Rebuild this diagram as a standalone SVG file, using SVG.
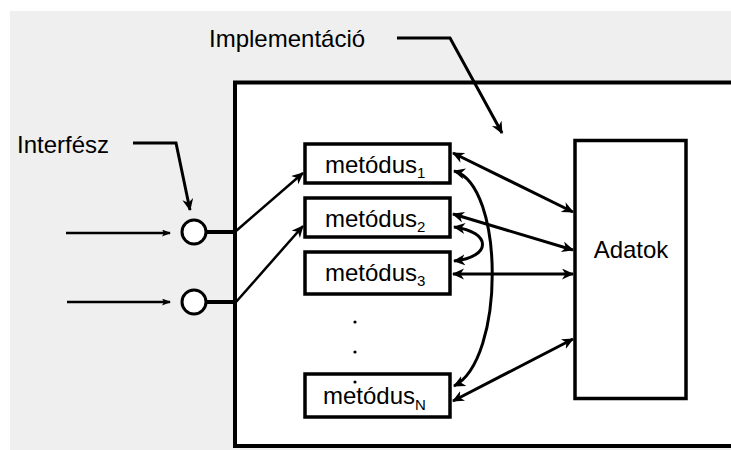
<svg xmlns="http://www.w3.org/2000/svg" width="731" height="450" viewBox="0 0 731 450">
  <style>
    .t { font-family: "Liberation Sans", Arial, sans-serif; fill: #000; }
    .box { fill: #fff; stroke: #000; stroke-width: 3.5; }
    .thick { fill: none; stroke: #000; stroke-width: 3; }
    .thin { fill: none; stroke: #000; stroke-width: 2.5; }
  </style>
  <defs>
    <marker id="ah" markerUnits="userSpaceOnUse" markerWidth="14" markerHeight="14" refX="11" refY="5.5" orient="auto-start-reverse">
      <path d="M0,0 L12,5.5 L0,11 L3.5,5.5 z" fill="#000"/>
    </marker>
    <marker id="ahs" markerUnits="userSpaceOnUse" markerWidth="10" markerHeight="10" refX="8" refY="3.5" orient="auto">
      <path d="M0,0 L9,3.5 L0,7 L2,3.5 z" fill="#000"/>
    </marker>
  </defs>

  <rect x="10" y="11" width="721" height="439" fill="#efefef"/>

  <g id="implementacio">
    <rect x="235" y="82.5" width="600" height="363.5" fill="#fff" stroke="#000" stroke-width="4"/>
    <text class="t" x="209" y="47" font-size="24">Implementáció</text>
  </g>

  <g id="interfesz">
    <text class="t" x="17" y="153" font-size="24">Interfész</text>
    <circle cx="194" cy="232" r="12" fill="#fff" stroke="#000" stroke-width="3"/>
    <circle cx="194" cy="302" r="12" fill="#fff" stroke="#000" stroke-width="3"/>
  </g>

  <g id="m1">
    <rect class="box" x="305" y="144" width="145" height="39"/>
    <text class="t" x="325" y="172.5" font-size="24">metódus<tspan font-size="15" dy="5">1</tspan></text>
  </g>
  <g id="m2">
    <rect class="box" x="305" y="198" width="145" height="39"/>
    <text class="t" x="325" y="226.5" font-size="24">metódus<tspan font-size="15" dy="5">2</tspan></text>
  </g>
  <g id="m3">
    <rect class="box" x="305" y="252" width="145" height="42"/>
    <text class="t" x="325" y="280.5" font-size="24">metódus<tspan font-size="15" dy="5">3</tspan></text>
  </g>
  <g id="mN">
    <rect class="box" x="305" y="374" width="145" height="43"/>
    <text class="t" x="323" y="404" font-size="24">metódus<tspan font-size="15" dy="6">N</tspan></text>
  </g>
  <g id="dots">
    <circle cx="355" cy="322" r="1.6" fill="#000"/>
    <circle cx="355" cy="352" r="1.6" fill="#000"/>
    <circle cx="355" cy="382" r="1.6" fill="#000"/>
  </g>

  <g id="adatok">
    <rect class="box" x="575" y="140.5" width="111" height="258"/>
    <text class="t" x="631" y="258" font-size="24" text-anchor="middle">Adatok</text>
  </g>

  <g id="connectors">
    <polyline class="thick" points="397,38 450,38 502,133" marker-end="url(#ah)"/>
    <polyline class="thick" points="133,143 176,143 190,210" marker-end="url(#ah)"/>
    <line class="thin" x1="66" y1="233" x2="170" y2="233" marker-end="url(#ahs)"/>
    <line class="thin" x1="67" y1="302" x2="170" y2="302" marker-end="url(#ahs)"/>
    <line x1="206" y1="232" x2="236" y2="232" stroke="#000" stroke-width="4"/>
    <line x1="206" y1="302" x2="236" y2="302" stroke="#000" stroke-width="4"/>
    <line class="thin" x1="236" y1="231" x2="303" y2="173" marker-end="url(#ah)"/>
    <line class="thin" x1="236" y1="302" x2="303" y2="226" marker-end="url(#ah)"/>
    <line class="thick" x1="453" y1="153" x2="573" y2="212" marker-start="url(#ah)" marker-end="url(#ah)"/>
    <line class="thick" x1="453" y1="214" x2="573" y2="250" marker-start="url(#ah)" marker-end="url(#ah)"/>
    <line class="thick" x1="453" y1="274" x2="573" y2="274" marker-start="url(#ah)" marker-end="url(#ah)"/>
    <line class="thick" x1="453" y1="401" x2="573" y2="339" marker-start="url(#ah)" marker-end="url(#ah)"/>
    <path class="thick" d="M454,227 C492,232 492,257 454,261" marker-start="url(#ah)" marker-end="url(#ah)"/>
    <path class="thick" d="M454,171 C505,185 505,360 454,386" marker-start="url(#ah)" marker-end="url(#ah)"/>
  </g>
</svg>
